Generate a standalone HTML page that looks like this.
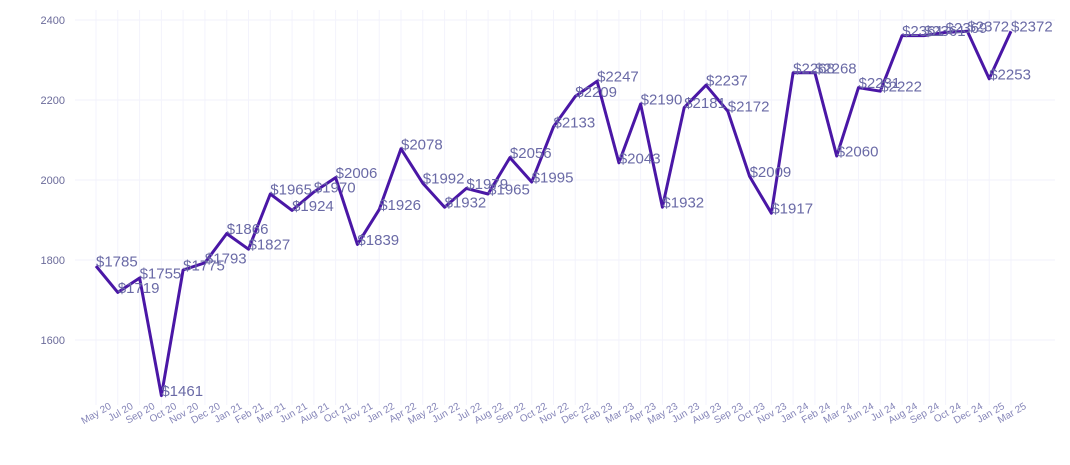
<!DOCTYPE html>
<html><head><meta charset="utf-8"><style>
body{margin:0;background:#fff;}
svg{display:block;font-family:"Liberation Sans",sans-serif;}
</style></head><body>
<svg id="chart" width="1070" height="465" viewBox="0 0 1070 465" xmlns="http://www.w3.org/2000/svg">
<g id="grid"></g>
<g id="yaxis"></g>
<g id="xaxis"></g>
<path id="line" fill="none" stroke="#4a17a6" stroke-width="3" stroke-linejoin="round"/>
<g id="labels"></g>
</svg>
<script>
const categories=["May 20","Jul 20","Sep 20","Oct 20","Nov 20","Dec 20","Jan 21","Feb 21","Mar 21","Jun 21","Aug 21","Oct 21","Nov 21","Jan 22","Apr 22","May 22","Jun 22","Jul 22","Aug 22","Sep 22","Oct 22","Nov 22","Dec 22","Feb 23","Mar 23","Apr 23","May 23","Jun 23","Aug 23","Sep 23","Oct 23","Nov 23","Jan 24","Feb 24","Mar 24","Jun 24","Jul 24","Aug 24","Sep 24","Oct 24","Dec 24","Jan 25","Mar 25"];
const values=[1785,1719,1755,1461,1775,1793,1866,1827,1965,1924,1970,2006,1839,1926,2078,1992,1932,1979,1965,2056,1995,2133,2209,2247,2043,2190,1932,2181,2237,2172,2009,1917,2268,2268,2060,2231,2222,2361,2361,2369,2372,2253,2372];
const yTicks=[1600,1800,2000,2200,2400];
const NS="http://www.w3.org/2000/svg";
const n=categories.length;
function xs(i){return 96+i*(1011-96)/(n-1);}
function ys(v){return 20+(2400-v)*0.4;}
function mk(tag,attrs,parent,txt){const e=document.createElementNS(NS,tag);for(const k in attrs)e.setAttribute(k,attrs[k]);if(txt!==undefined)e.textContent=txt;parent.appendChild(e);return e;}
const grid=document.getElementById('grid'),ya=document.getElementById('yaxis'),xa=document.getElementById('xaxis'),lb=document.getElementById('labels');
yTicks.forEach(t=>{
 const l=mk('line',{x1:75,x2:1055,y1:ys(t),y2:ys(t),stroke:'#f0f0fb','stroke-width':1},grid);
 
 
 const tx=mk('text',{x:65,y:ys(t)+4,'text-anchor':'end','font-size':11,fill:'#6b6b9a'},ya,t);
 
 
});
categories.forEach((c,i)=>{
 const l=mk('line',{x1:xs(i),x2:xs(i),y1:10,y2:405,stroke:'#f3f3fc','stroke-width':1},grid);
 
 
 const x=xs(i)+16,y=408;
 const t=mk('text',{x:x,y:y,'text-anchor':'end','font-size':10,fill:'#8585b8',transform:`rotate(-30 ${x} ${y})`},xa,c);
 
 
});
let d='';
for(let i=0;i<n;i++){d+=(i?'L':'M')+xs(i).toFixed(1)+' '+ys(values[i]).toFixed(1);}
document.getElementById('line').setAttribute('d',d);
for(let i=0;i<n;i++){
 const t=mk('text',{x:xs(i),y:ys(values[i])+0.5,'font-size':15,fill:'#6a6aa6'},lb,'$'+values[i]);
 
 
}
</script>
</body></html>
